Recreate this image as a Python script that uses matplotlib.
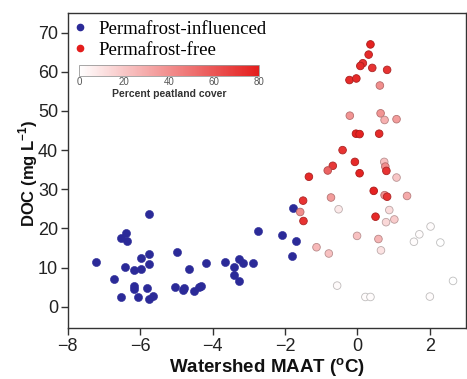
import matplotlib
matplotlib.use("Agg")
import matplotlib.pyplot as plt
import numpy as np
from matplotlib.colors import LinearSegmentedColormap, Normalize
from matplotlib.lines import Line2D

plt.rcParams["font.family"] = ["Liberation Sans", "DejaVu Sans"]
plt.rcParams["mathtext.fontset"] = "custom"
plt.rcParams["mathtext.rm"] = "Liberation Sans"
plt.rcParams["mathtext.bf"] = "Liberation Sans:bold"

# Permafrost-influenced watersheds
pf_maat = [-5.76, -6.39, -6.52, -6.36, -7.22, -4.98, -5.76, -5.97, -5.76, -6.41,
           -6.18, -5.97, -4.65, -6.71, -6.18, -6.18, -5.81, -5.03, -4.80, -4.81,
           -6.52, -6.06, -5.76, -5.64, -4.50, -4.38, -4.33, -4.18, -3.65, -3.26,
           -3.16, -2.88, -3.42, -3.42, -3.26, -2.75, -2.08, -1.79, -1.69, -1.80]
pf_doc = [23.6, 18.75, 17.6, 16.7, 11.5, 13.9, 13.5, 12.4, 10.9, 10.1,
          9.4, 9.6, 9.6, 7.1, 5.3, 4.6, 4.8, 5.0, 4.8, 4.3,
          2.6, 2.6, 2.0, 2.8, 4.1, 5.0, 5.2, 11.2, 11.5, 12.2,
          11.2, 11.1, 10.1, 8.2, 6.7, 19.4, 18.3, 25.3, 16.9, 13.0]

# Permafrost-free watersheds
free_maat = [0.36, 0.31, 0.15, 0.08, 0.41, 0.82, -0.22, -0.03, 0.62, -0.21,
             0.64, 0.75, 1.08, -0.04, 0.06, 0.60, -0.41, -0.07, 0.74, 0.77,
             0.80, -0.68, -0.82, -1.34, 0.06, 1.08, 0.45, 0.75, 0.82, 1.37,
             -0.73, -1.50, -0.52, -1.58, 0.88, 0.50, 1.02, 0.79, -1.49, -0.01,
             0.58, 0.65, -1.13, -0.79, 2.02, 1.71, 1.56, 2.29, 2.64, -0.56,
             0.22, 0.36, 2.00]
free_doc = [67.0, 64.4, 62.2, 61.5, 61.0, 60.5, 57.9, 58.3, 56.5, 48.8,
            49.4, 47.7, 47.9, 44.2, 44.1, 44.2, 40.0, 37.0, 37.0, 35.8,
            34.7, 36.0, 34.8, 33.2, 34.1, 33.0, 29.6, 28.5, 28.1, 28.3,
            27.9, 27.1, 24.9, 24.2, 24.7, 23.0, 22.3, 21.6, 21.9, 18.1,
            17.3, 14.4, 15.2, 13.6, 20.5, 18.5, 16.6, 16.4, 6.6, 5.4,
            2.5, 2.5, 2.6]
free_peat = [78, 75, 72, 75, 72, 72, 75, 75, 40, 38,
             38, 28, 35, 78, 78, 75, 72, 75, 22, 40,
             72, 70, 55, 75, 78, 20, 78, 40, 72, 30,
             35, 72, 8, 40, 12, 75, 18, 14, 72, 22,
             26, 10, 25, 22, 1, 1, 1, 0, 0, 2,
             1, 1, 1]

x_ticks = [-8, -6, -4, -2, 0, 2]
y_ticks = [0, 10, 20, 30, 40, 50, 60, 70]
cbar_ticks = [0, 20, 40, 60, 80]

blue = "#2b2a98"
red_full = "#e41d1c"
cmap = LinearSegmentedColormap.from_list("peat", ["#ffffff", red_full])
norm = Normalize(0, 80)

fig = plt.figure(figsize=(4.67, 3.79), dpi=100)
ax = fig.add_axes([0.145, 0.1338, 0.853, 0.8327])

ax.scatter(pf_maat, pf_doc, s=34, c=blue, edgecolors=blue, linewidths=0.4, zorder=3)

fc = cmap(norm(np.array(free_peat)))
ec = fc.copy()
ec[:, :3] = ec[:, :3] * 0.75
ax.scatter(free_maat, free_doc, s=30, c=fc, edgecolors=ec, linewidths=0.6, zorder=3)

ax.set_xlim(-8, 3)
ax.set_ylim(-5.5, 75.1)
ax.set_xticks(x_ticks)
ax.set_yticks(y_ticks)
ax.tick_params(direction="out", length=5, width=1, labelsize=13, colors="#333333",
               labelcolor="#222222", pad=2)
for sp in ax.spines.values():
    sp.set_color("#333333")
    sp.set_linewidth(1.0)

ax.set_xlabel("Watershed MAAT ($^{\\mathbf{o}}$C)", fontsize=13.5, fontweight="bold",
              color="#111111", labelpad=1)
ax.set_ylabel("DOC (mg L$^{\\mathbf{-1}}$)", fontsize=12, fontweight="bold",
              color="#111111")
ax.yaxis.set_label_coords(-0.07, 0.492)

handles = [Line2D([], [], marker="o", ls="none", color=blue, markersize=4.5),
           Line2D([], [], marker="o", ls="none", color=red_full, markersize=4.5)]
ax.legend(handles, ["Permafrost-influenced", "Permafrost-free"], loc="upper left",
          bbox_to_anchor=(0.012, 0.975), borderaxespad=0, borderpad=0,
          handlelength=0.8, handletextpad=0.6, labelspacing=0.2, frameon=False,
          prop={"family": "Liberation Serif", "size": 13.5})

cax = ax.inset_axes([0.0284, 0.7994, 0.4527, 0.0339])
cb = fig.colorbar(plt.cm.ScalarMappable(norm=norm, cmap=cmap), cax=cax,
                  orientation="horizontal", ticks=cbar_ticks)
cb.outline.set_edgecolor("#999999")
cb.outline.set_linewidth(0.6)
cax.tick_params(length=0, labelsize=7, labelcolor="#555555", pad=1)
cb.set_label("Percent peatland cover", fontsize=7.5, fontweight="bold",
             color="#333333", labelpad=1)

fig.savefig("out.png", dpi=100)
